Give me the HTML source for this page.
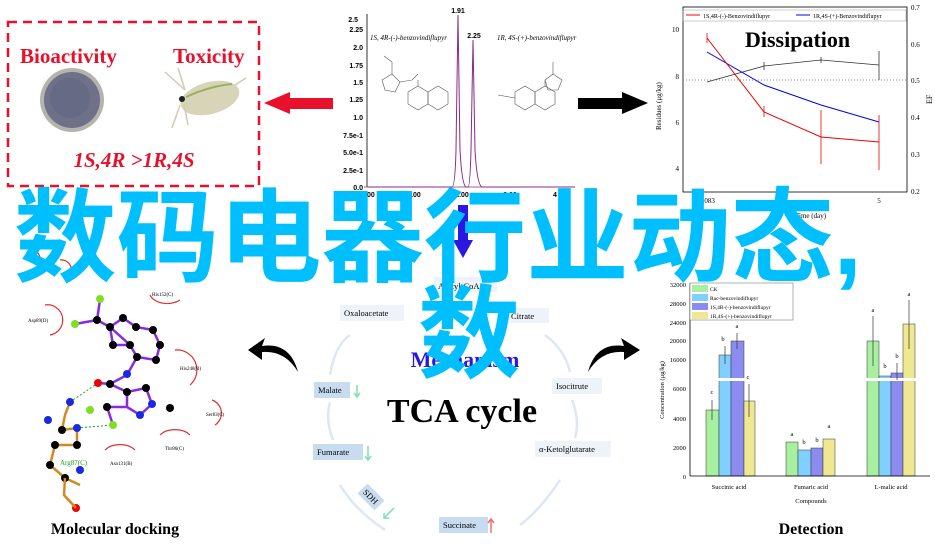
<!DOCTYPE html>
<html><head><meta charset="utf-8"><style>
html,body{margin:0;padding:0;background:#fff;width:935px;height:545px;overflow:hidden}
svg{display:block}
.s{font-family:"Liberation Serif",serif}
.a{font-family:"Liberation Sans",sans-serif}
</style></head><body>
<svg width="935" height="545" viewBox="0 0 935 545" xmlns="http://www.w3.org/2000/svg">
<!-- top-left box -->
<rect x="8" y="22" width="251" height="164" fill="none" stroke="#e8102a" stroke-width="2.5" stroke-dasharray="9,6"/>
<text x="20" y="63" class="s" font-size="21" font-weight="bold" fill="#e8102a">Bioactivity</text>
<text x="173" y="63" class="s" font-size="21" font-weight="bold" fill="#e8102a">Toxicity</text>
<circle cx="72" cy="100" r="32" fill="#b5b3ad"/>
<circle cx="72" cy="100" r="28" fill="#6f7189"/>
<circle cx="70" cy="98" r="20" fill="#666a85"/>
<ellipse cx="210" cy="98" rx="30" ry="16" fill="#d8d4b8" transform="rotate(-15 210 98)"/>
<path d="M186 97 Q210 86 232 84" stroke="#9ab060" stroke-width="2" fill="none"/>
<circle cx="182" cy="99" r="3" fill="#222"/>
<path d="M185 90 L165 72 M185 90 L178 68 M180 105 L172 128 M184 104 L188 125 M235 85 L246 78" stroke="#d0ccb0" stroke-width="1.5" fill="none"/>
<text x="134" y="167" class="s" font-size="21" font-weight="bold" font-style="italic" fill="#e8102a" text-anchor="middle">1S,4R &gt;1R,4S</text>
<!-- arrows -->
<polygon points="264,103 290,92 290,98 333,98 333,109 290,109 290,114" fill="#e8102a"/>
<polygon points="648,103 622,92 622,98 578,98 578,109 622,109 622,114" fill="#000"/>
<!-- chromatogram -->
<g class="a" font-size="7" font-weight="bold" text-anchor="end" fill="#000">
<line x1="367" y1="14" x2="367" y2="187" stroke="#000" stroke-width="0.8"/>
<line x1="364" y1="187" x2="575" y2="187" stroke="#8a2a8a" stroke-width="0.8"/>
<text x="363" y="32">2.25</text><text x="363" y="50">2.0</text><text x="363" y="68">1.75</text>
<text x="363" y="85">1.5</text><text x="363" y="102">1.25</text><text x="363" y="120">1.0</text>
<text x="363" y="138">7.5e-1</text><text x="363" y="155">5.0e-1</text><text x="363" y="173">2.5e-1</text><text x="363" y="190">0.0</text>
<text x="358" y="22">2.5</text>
</g>
<g class="a" font-size="7" font-weight="bold" fill="#000" text-anchor="middle">
<text x="368" y="197">0.00</text><text x="414" y="197">1.00</text><text x="462" y="197">2.00</text><text x="510" y="197">3.00</text><text x="555" y="197">4</text>
<text x="458" y="13">1.91</text><text x="474" y="38">2.25</text>
</g>
<path d="M367 187 L452 187 Q455 187 456 150 L458 15 L460 150 Q462 185 466 187 L468 187 Q470 187 471 150 L473 40 L475 150 Q477 185 482 187 L575 187" fill="none" stroke="#8a2a8a" stroke-width="1"/>
<text x="370" y="40" class="s" font-size="7" font-style="italic">1S, 4R-(-)-benzovindiflupyr</text>
<text x="497" y="40" class="s" font-size="7" font-style="italic">1R, 4S-(+)-benzovindiflupyr</text>
<g stroke="#555" stroke-width="0.6" fill="none">
<polygon points="408,92 418,86 428,92 428,104 418,110 408,104"/><polygon points="428,92 438,86 448,92 448,104 438,110 428,104"/>
<polygon points="382,80 392,74 400,82 395,92 385,90"/><path d="M392 74 L392 62 L384 56 M400 82 L412 80 L418 74 M418 86 L418 80"/>
<polygon points="515,92 525,86 535,92 535,104 525,110 515,104"/><polygon points="535,92 545,86 555,92 555,104 545,110 535,104"/>
<polygon points="545,80 553,74 562,80 558,90 548,90"/><path d="M545 86 L545 80 M553 74 L553 62 M498 95 L515 98"/>
</g>
<!-- top-right plot -->
<rect x="683" y="7" width="224" height="185" fill="none" stroke="#000" stroke-width="0.8"/>
<g class="s" font-size="7" fill="#000">
<text x="679" y="32" text-anchor="end">10</text><text x="679" y="79" text-anchor="end">8</text><text x="679" y="125" text-anchor="end">6</text><text x="679" y="171" text-anchor="end">4</text>
<text x="911" y="10">0.7</text><text x="911" y="47">0.6</text><text x="911" y="83">0.5</text><text x="911" y="120">0.4</text><text x="911" y="157">0.3</text><text x="911" y="194">0.2</text>
<text x="707" y="203" text-anchor="middle">0.083</text><text x="879" y="203" text-anchor="middle">5</text>
<text x="795" y="218">Time (day)</text>
<text transform="translate(661 130) rotate(-90)">Residues (μg/kg)</text>
<text transform="translate(932 104) rotate(-90)" font-size="8">EF</text>
<rect x="683" y="10" width="223" height="11" fill="none" stroke="#999" stroke-width="0.5"/>
<line x1="686" y1="15" x2="700" y2="15" stroke="red"/><text x="703" y="18" font-size="6">1S,4R-(-)-Benzovindiflupyr</text>
<line x1="796" y1="15" x2="810" y2="15" stroke="blue"/><text x="813" y="18" font-size="6">1R,4S-(+)-Benzovindiflupyr</text>
</g>
<line x1="683" y1="80" x2="907" y2="80" stroke="#888" stroke-dasharray="1,2"/>
<polyline points="707,82 764,66 821,60 879,65" fill="none" stroke="#333" stroke-width="0.8"/>
<polyline points="707,52 764,85 821,105 879,122" fill="none" stroke="#0000ee" stroke-width="1"/>
<polyline points="707,38 764,112 821,137 879,142" fill="none" stroke="#ee0000" stroke-width="1"/>
<g stroke="#ee0000" stroke-width="0.8"><line x1="707" y1="33" x2="707" y2="43"/><line x1="764" y1="106" x2="764" y2="117"/><line x1="821" y1="110" x2="821" y2="164"/><line x1="879" y1="115" x2="879" y2="170"/></g>
<g stroke="#333" stroke-width="0.8"><line x1="764" y1="62" x2="764" y2="70"/><line x1="821" y1="57" x2="821" y2="63"/><line x1="879" y1="51" x2="879" y2="80"/></g>
<text x="745" y="47" class="s" font-size="22" font-weight="bold">Dissipation</text>
<!-- blue arrow -->
<polygon points="458,205 468,205 468,240 473,240 463,258 453,240 458,240" fill="#2a18e0"/>
<!-- docking -->
<g stroke="#e03030" stroke-width="1.2" fill="none">
<path d="M45 305 A14 14 0 0 1 50 335"/><path d="M150 295 A18 12 0 0 0 180 300"/><path d="M175 350 A20 20 0 0 1 190 385"/>
<path d="M212 400 A14 14 0 0 1 215 425"/><path d="M160 435 A18 12 0 0 1 190 435"/><path d="M105 450 A18 12 0 0 1 135 450"/>
<path d="M35 250 A14 14 0 0 1 40 265"/><path d="M60 260 A10 10 0 0 1 70 275"/>
</g>
<g class="s" font-size="5" fill="#000"><text x="28" y="322">Asp89(D)</text><text x="152" y="296">His152(C)</text><text x="180" y="370">His248(B)</text><text x="206" y="416">Ser83(C)</text><text x="165" y="450">Thr86(C)</text><text x="110" y="465">Asn131(B)</text></g>
<g stroke="#8a2ae0" stroke-width="2.5" fill="none">
<path d="M100 300 L97 320 L75 324 M97 320 L110 327 L123 318 L136 327 L153 330 L160 345 L156 360 L137 357 L130 345 L110 327 M110 327 L113 345 L130 345 M137 357 L127 375 L110 384 L98 383 M110 384 L127 392 L146 388 L152 404 L140 415 L127 407 L127 392 M127 407 L107 407 L113 425"/>
</g>
<path d="M70 402 L65 415 L62 430 L77 428 L77 445 L55 445 L50 465 L65 478 L80 485" stroke="#d08a20" stroke-width="2.5" fill="none"/>
<path d="M70 402 L98 383 M77 428 L113 425" stroke="#20a020" stroke-dasharray="2,2" fill="none"/>
<g fill="#000"><circle cx="97" cy="320" r="4"/><circle cx="110" cy="327" r="4"/><circle cx="123" cy="318" r="4"/><circle cx="136" cy="327" r="4"/><circle cx="153" cy="330" r="4"/><circle cx="160" cy="345" r="4"/><circle cx="156" cy="360" r="4"/><circle cx="137" cy="357" r="4"/><circle cx="130" cy="345" r="4"/><circle cx="113" cy="345" r="4"/><circle cx="110" cy="384" r="4"/><circle cx="127" cy="392" r="4"/><circle cx="146" cy="388" r="4"/><circle cx="107" cy="407" r="4"/><circle cx="170" cy="408" r="4"/><circle cx="62" cy="430" r="4"/><circle cx="77" cy="445" r="4"/><circle cx="55" cy="445" r="4"/><circle cx="50" cy="465" r="4"/><circle cx="65" cy="478" r="4"/></g>
<g fill="#1a2ae0"><circle cx="127" cy="374" r="4"/><circle cx="152" cy="404" r="4"/><circle cx="140" cy="415" r="4"/><circle cx="70" cy="402" r="4"/><circle cx="48" cy="420" r="4"/><circle cx="77" cy="428" r="4"/><circle cx="80" cy="470" r="4"/></g>
<g fill="#7ee020"><circle cx="100" cy="299" r="4"/><circle cx="75" cy="324" r="4"/><circle cx="90" cy="410" r="4"/><circle cx="113" cy="425" r="4"/></g>
<g fill="#ee0000"><circle cx="98" cy="383" r="4"/><circle cx="76" cy="508" r="4"/></g>
<path d="M65 478 L64 495 L76 508" stroke="#d08a20" stroke-width="2.5" fill="none"/>
<text x="60" y="465" class="s" font-size="7" fill="#20a020">Arg87(C)</text>
<text x="115" y="534" class="s" font-size="16" font-weight="bold" text-anchor="middle">Molecular docking</text>
<!-- curved arrows -->
<path d="M298 372 Q290 342 262 346 L265 338 L248 350 L262 360 L262 352 Q285 350 298 372Z" fill="#000"/>
<path d="M588 372 Q596 342 624 346 L621 338 L640 350 L624 360 L624 352 Q601 350 588 372Z" fill="#000"/>
<!-- TCA -->
<g fill="none" stroke="#dde8f4" stroke-width="2.5">
<path d="M330 375 Q335 345 350 335"/><path d="M545 335 Q565 350 570 372"/><path d="M572 400 Q580 420 575 438"/>
<path d="M560 480 Q540 510 520 525"/><path d="M385 530 Q355 510 340 485"/><path d="M333 440 Q325 420 330 402"/>
</g>
<g class="s" font-size="8.5" fill="#000">
<rect x="434" y="277" width="63" height="15" fill="#eef3f9"/><text x="438" y="289">Acetyl-CoA</text>
<rect x="340" y="305" width="64" height="16" fill="#eef3f9"/><text x="344" y="316">Oxaloacetate</text>
<rect x="507" y="308" width="42" height="15" fill="#eef3f9"/><text x="511" y="319">Citrate</text>
<rect x="314" y="382" width="36" height="16" fill="#c8dcf0"/><text x="318" y="393">Malate</text>
<rect x="552" y="378" width="50" height="16" fill="#eef3f9"/><text x="556" y="389">Isocitrute</text>
<rect x="313" y="444" width="50" height="16" fill="#c8dcf0"/><text x="317" y="455">Fumarate</text>
<rect x="535" y="441" width="76" height="16" fill="#eef3f9"/><text x="539" y="452">α-Ketolglutarate</text>
<rect x="439" y="517" width="49" height="16" fill="#c8dcf0"/><text x="443" y="528">Succinate</text>
<g transform="translate(371 497) rotate(45)"><rect x="-12" y="-7" width="24" height="14" fill="#c8dcf0"/><text x="-9" y="3">SDH</text></g>
</g>
<g stroke-width="1.5"><path d="M357 385 V397 M354 393 L357 397 L360 393" stroke="#7ee0b0" fill="none"/><path d="M368 446 V460 M365 456 L368 460 L371 456" stroke="#7ee0b0" fill="none"/><path d="M394 508 L384 518 M384 513 L384 518 L389 518" stroke="#7ee0b0" fill="none"/><path d="M491 533 V519 M488 523 L491 519 L494 523" stroke="#f07070" fill="none"/></g>
<text x="465" y="367" class="s" font-size="22" font-weight="bold" fill="#2a18e0" text-anchor="middle">Mechanism</text>
<text x="462" y="422" class="s" font-size="34" font-weight="bold" text-anchor="middle">TCA cycle</text>
<!-- bar chart -->
<g>
<rect x="706" y="410" width="13" height="66" fill="#a8f0a0" stroke="#333" stroke-width="0.5"/>
<rect x="719" y="355" width="12" height="121" fill="#80d0ff" stroke="#333" stroke-width="0.5"/>
<rect x="731" y="341" width="13" height="135" fill="#8c8cf0" stroke="#333" stroke-width="0.5"/>
<rect x="744" y="401" width="11" height="75" fill="#f0e890" stroke="#333" stroke-width="0.5"/>
<rect x="786" y="442" width="12" height="34" fill="#a8f0a0" stroke="#333" stroke-width="0.5"/>
<rect x="798" y="450" width="13" height="26" fill="#80d0ff" stroke="#333" stroke-width="0.5"/>
<rect x="811" y="448" width="12" height="28" fill="#8c8cf0" stroke="#333" stroke-width="0.5"/>
<rect x="823" y="439" width="12" height="37" fill="#f0e890" stroke="#333" stroke-width="0.5"/>
<rect x="867" y="341" width="12" height="135" fill="#a8f0a0" stroke="#333" stroke-width="0.5"/>
<rect x="879" y="376" width="12" height="100" fill="#80d0ff" stroke="#333" stroke-width="0.5"/>
<rect x="891" y="373" width="12" height="103" fill="#8c8cf0" stroke="#333" stroke-width="0.5"/>
<rect x="903" y="324" width="12" height="152" fill="#f0e890" stroke="#333" stroke-width="0.5"/>
<rect x="690" y="378" width="240" height="3" fill="#fff"/>
<g stroke="#333" stroke-width="0.7"><line x1="712" y1="400" x2="712" y2="420"/><line x1="725" y1="346" x2="725" y2="364"/><line x1="737" y1="333" x2="737" y2="349"/><line x1="749" y1="384" x2="749" y2="417"/><line x1="873" y1="316" x2="873" y2="366"/><line x1="909" y1="300" x2="909" y2="349"/><line x1="897" y1="363" x2="897" y2="380"/></g>
<line x1="690" y1="283" x2="690" y2="476" stroke="#000" stroke-width="0.8"/>
<line x1="690" y1="476" x2="930" y2="476" stroke="#000" stroke-width="0.8"/>
<g class="s" font-size="6.5" fill="#000" text-anchor="end">
<text x="686" y="287">32000</text><text x="686" y="306">28000</text><text x="686" y="325">24000</text><text x="686" y="343">20000</text><text x="686" y="362">16000</text>
<text x="686" y="391">6000</text><text x="686" y="421">4000</text><text x="686" y="450">2000</text><text x="686" y="479">0</text>
</g>
<g class="s" font-size="6.5" fill="#000" text-anchor="middle">
<text x="712" y="394">c</text><text x="723" y="341">b</text><text x="737" y="328">a</text><text x="748" y="379">c</text>
<text x="792" y="436">a</text><text x="804" y="444">b</text><text x="817" y="442">b</text><text x="829" y="428">a</text>
<text x="873" y="312">a</text><text x="885" y="368">b</text><text x="897" y="358">b</text><text x="909" y="296">a</text>
<text x="729" y="489">Succinic acid</text><text x="811" y="489">Fumaric acid</text><text x="891" y="489">L-malic acid</text>
<text x="811" y="503">Compounds</text>
<text transform="translate(664 390) rotate(-90)">Concentration (μg/kg)</text>
</g>
<rect x="690" y="283" width="103" height="37" fill="#fff" stroke="#666" stroke-width="0.5"/>
<g class="s" font-size="5.5" fill="#000">
<rect x="692" y="285" width="16" height="7" fill="#a8f0a0"/><text x="710" y="291">CK</text>
<rect x="692" y="294" width="16" height="7" fill="#80d0ff"/><text x="710" y="300">Rac-benzovindiflupyr</text>
<rect x="692" y="303" width="16" height="7" fill="#8c8cf0"/><text x="710" y="309">1S,4R-(-)-benzovindiflupyr</text>
<rect x="692" y="312" width="16" height="7" fill="#f0e890"/><text x="710" y="318">1R,4S-(+)-benzovindiflupyr</text>
</g>
<text x="811" y="534" class="s" font-size="16" font-weight="bold" text-anchor="middle">Detection</text>
</g>
<!-- big cyan text -->
<g font-family="'Liberation Sans','Noto Sans CJK SC',sans-serif" font-weight="bold" fill="#00bfff" font-size="102">
<text x="14" y="274" textLength="848" lengthAdjust="spacingAndGlyphs">数码电器行业动态,</text>
<text x="418" y="370">数</text>
</g>
</svg>
</body></html>
